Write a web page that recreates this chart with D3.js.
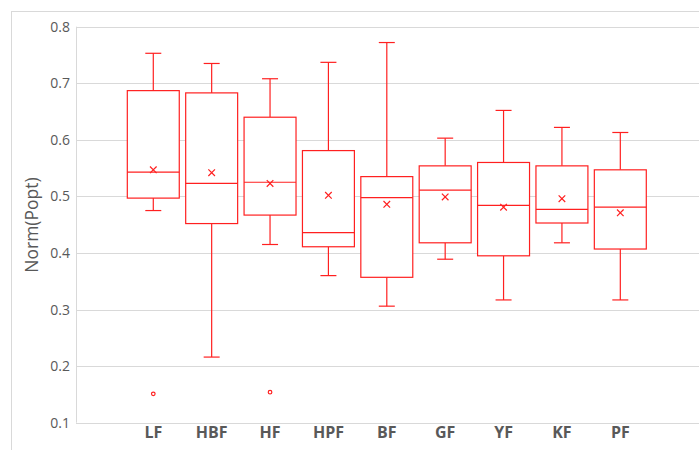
<!DOCTYPE html>
<html><head><meta charset="utf-8">
<script src="https://cdn.jsdelivr.net/npm/d3@7"></script>
<style>body{margin:0;background:#fff}svg{display:block}</style>
</head><body>
<svg id="c" width="699" height="450"></svg>
<script>
const categories = ["LF","HBF","HF","HPF","BF","GF","YF","KF","PF"];
const whiskerHigh = [0.753,0.735,0.708,0.737,0.772,0.603,0.652,0.622,0.613];
const q3 =          [0.687,0.683,0.640,0.581,0.535,0.554,0.560,0.554,0.547];
const median =      [0.543,0.523,0.525,0.436,0.498,0.511,0.484,0.477,0.481];
const q1 =          [0.497,0.452,0.467,0.411,0.357,0.418,0.395,0.453,0.407];
const whiskerLow =  [0.475,0.216,0.415,0.360,0.306,0.389,0.317,0.418,0.317];
const mean =        [0.547,0.542,0.523,0.502,0.486,0.499,0.481,0.496,0.471];
const outliers = [{cat:"LF",v:0.151},{cat:"HF",v:0.154}];
const yTicks = [0.1,0.2,0.3,0.4,0.5,0.6,0.7,0.8];

const svg = d3.select("#c");
const red = "#ff2020";
const grey = "#595959";

// chart area border
svg.append("rect").attr("x",11.5).attr("y",11.5).attr("width",720).attr("height",460)
  .attr("fill","none").attr("stroke","#d9d9d9");

const y = d3.scaleLinear().domain([0.1,0.8]).range([422.7,26.7]);
const x = d3.scaleBand().domain(categories).range([124.1,649.5]).padding(0);
const bw = x.bandwidth()*0.89, cap = 16;
const cx = c => x(c)+x.bandwidth()/2;

// gridlines
svg.append("g").selectAll("line").data(yTicks).join("line")
  .attr("x1",76).attr("x2",699)
  .attr("y1",d=>Math.round(y(d))+0.5).attr("y2",d=>Math.round(y(d))+0.5)
  .attr("stroke","#d9d9d9");
svg.append("line").attr("x1",76.5).attr("x2",76.5).attr("y1",y(0.8)).attr("y2",y(0.1))
  .attr("stroke","#d9d9d9");

// y axis
const ya = svg.append("g").attr("transform","translate(70,0)")
  .call(d3.axisLeft(y).tickValues(yTicks).tickSize(0).tickPadding(0).tickFormat(d3.format(".1f")));
ya.select(".domain").remove();
ya.selectAll("text").attr("font-family","'Open Sans'").attr("font-size",14).attr("fill",grey);

// x axis labels
const xa = svg.append("g").attr("transform","translate(0,426)")
  .call(d3.axisBottom(x).tickSize(0).tickPadding(0));
xa.select(".domain").remove();
xa.selectAll("text").attr("font-family","'Open Sans'").attr("font-weight","bold")
  .attr("font-size",16).attr("fill",grey).attr("dy","0.75em");

// y title
svg.append("text").attr("transform","translate(38,225) rotate(-90)")
  .attr("text-anchor","middle").attr("font-family","'Open Sans'").attr("font-size",17.5)
  .attr("fill",grey).text("Norm(Popt)");

const data = categories.map((c,i)=>({c,hi:whiskerHigh[i],q3:q3[i],med:median[i],q1:q1[i],lo:whiskerLow[i],mean:mean[i]}));
const g = svg.append("g").attr("stroke",red).attr("fill","none").attr("stroke-width",1.2);
const b = g.selectAll("g").data(data).join("g");
b.append("line").attr("x1",d=>cx(d.c)).attr("x2",d=>cx(d.c)).attr("y1",d=>y(d.hi)).attr("y2",d=>y(d.q3));
b.append("line").attr("x1",d=>cx(d.c)).attr("x2",d=>cx(d.c)).attr("y1",d=>y(d.q1)).attr("y2",d=>y(d.lo));
b.append("line").attr("x1",d=>cx(d.c)-cap/2).attr("x2",d=>cx(d.c)+cap/2).attr("y1",d=>y(d.hi)).attr("y2",d=>y(d.hi));
b.append("line").attr("x1",d=>cx(d.c)-cap/2).attr("x2",d=>cx(d.c)+cap/2).attr("y1",d=>y(d.lo)).attr("y2",d=>y(d.lo));
b.append("rect").attr("x",d=>cx(d.c)-bw/2).attr("width",bw)
  .attr("y",d=>y(d.q3)).attr("height",d=>y(d.q1)-y(d.q3)).attr("fill","#fff");
b.append("line").attr("x1",d=>cx(d.c)-bw/2).attr("x2",d=>cx(d.c)+bw/2).attr("y1",d=>y(d.med)).attr("y2",d=>y(d.med));
const m = 3.3;
b.append("path").attr("d",d=>{const px=cx(d.c),py=y(d.mean);
  return `M${px-m},${py-m}L${px+m},${py+m}M${px-m},${py+m}L${px+m},${py-m}`;});
g.selectAll("circle").data(outliers).join("circle")
  .attr("cx",d=>cx(d.cat)).attr("cy",d=>y(d.v)).attr("r",1.8).attr("fill","#fff");
</script>
</body></html>
